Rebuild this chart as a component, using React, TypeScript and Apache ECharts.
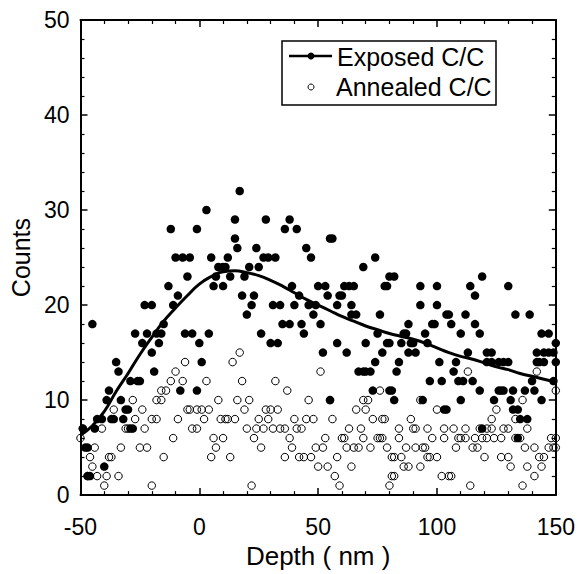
import React, { useEffect, useRef } from "react";
import * as echarts from "echarts";

// Exposed C/C counts: [depth (nm), counts]
const exposed: number[][] = [
  [-49, 7], [-48, 5], [-47, 5], [-47, 2], [-46, 2], [-45, 18], [-44, 7], [-43, 8], [-41, 8], [-40, 3],
  [-39, 10], [-38, 11], [-37, 8], [-36, 8], [-35, 14], [-34, 13], [-33, 10], [-32, 8], [-31, 9], [-30, 9],
  [-29, 7], [-28, 7], [-29, 12], [-26, 12], [-25, 12], [-27, 17], [-24, 16], [-23, 20], [-20, 20], [-22, 17],
  [-20, 15], [-19, 13], [-18, 17], [-16, 17], [-17, 16], [-15, 18], [-13, 22], [-11, 20], [-9, 21], [-10, 25],
  [-7, 25], [-4, 25], [-5, 23], [-12, 28], [-1, 28], [-8, 11], [-1, 11], [-6, 17], [-3, 17], [0, 16],
  [1, 14], [3, 30], [4, 17], [5, 25], [6, 22], [7, 23], [8, 24], [10, 24], [11, 24], [10, 22],
  [12, 25], [13, 23], [15, 29], [15, 27], [16, 26], [17, 32],
  [18, 21], [19, 23], [20, 19], [21, 24], [22, 20], [23, 21], [24, 26], [25, 24], [26, 17], [27, 25],
  [29, 25], [32, 25], [28, 29], [30, 16], [33, 16], [31, 20], [34, 20], [35, 18], [38, 18], [36, 28],
  [41, 28], [38, 29], [39, 22], [40, 20], [42, 21], [43, 18], [44, 17], [45, 26], [47, 25], [46, 20],
  [49, 20], [48, 19], [50, 22], [53, 22], [54, 21], [51, 18], [52, 15], [55, 27], [56, 27], [58, 20],
  [59, 21], [60, 21], [61, 22], [63, 22], [65, 22], [64, 20], [64, 19], [66, 19], [58, 16], [62, 15],
  [69, 24], [67, 13], [69, 13], [70, 13], [72, 13], [74, 14], [70, 16], [74, 25], [76, 19], [75, 17],
  [77, 15], [79, 16], [78, 22], [80, 23], [55, 10], [73, 11], [80, 11],
  [82, 23], [79, 22], [80, 16], [84, 14], [83, 13], [81, 11], [82, 10], [85, 16], [86, 17], [87, 17],
  [88, 18], [88, 15], [91, 15], [89, 16], [90, 16], [93, 22], [93, 20], [95, 17], [96, 16], [98, 18],
  [99, 18], [97, 12], [100, 22], [100, 20], [101, 14], [102, 12], [103, 9], [104, 9], [104, 19], [105, 19],
  [106, 18], [108, 14], [107, 13], [109, 12], [111, 12], [115, 12], [110, 17], [110, 10], [112, 19], [113, 15],
  [114, 22], [116, 21], [116, 18], [118, 17], [118, 11], [119, 23], [121, 15], [123, 15], [121, 14], [123, 14],
  [126, 14], [128, 14], [130, 14], [124, 10], [126, 11], [127, 11], [128, 11], [130, 22], [131, 10], [132, 11],
  [132, 9], [134, 9], [133, 19], [137, 11], [139, 19], [135, 8], [138, 8], [140, 12], [141, 11], [142, 14],
  [143, 14], [145, 14], [142, 15], [145, 15], [147, 15], [149, 15], [144, 17], [147, 17], [144, 10], [149, 12],
  [150, 16], [150, 14], [134, 6], [119, 7], [94, 10],
];

// Annealed C/C counts: [depth (nm), counts]
const annealed: number[][] = [
  [-50, 6], [-49, 7], [-46, 4], [-45, 3], [-47, 2], [-43, 2], [-39, 2], [-34, 2], [-40, 1], [-44, 5],
  [-41, 7], [-38, 4], [-37, 4], [-36, 9], [-33, 5], [-31, 7], [-30, 7], [-28, 10], [-27, 8], [-24, 9],
  [-23, 7], [-25, 5], [-22, 5], [-20, 1], [-20, 8], [-18, 8], [-18, 10], [-16, 10], [-16, 11], [-14, 11],
  [-15, 4], [-12, 12], [-11, 6], [-10, 13], [-9, 8], [-7, 12], [-6, 14], [-5, 9], [-4, 9], [-3, 7],
  [-1, 7], [-1, 9], [1, 9], [2, 8], [3, 12], [4, 9], [5, 4], [6, 6], [7, 5], [8, 10],
  [9, 8], [11, 8], [12, 8], [10, 6], [13, 4], [14, 14], [15, 8],
  [17, 15], [18, 12], [16, 10], [21, 10], [19, 9], [20, 7], [23, 6], [26, 5], [22, 1], [24, 7],
  [27, 7], [25, 8], [29, 8], [28, 9], [30, 9], [33, 9], [31, 7], [34, 7], [36, 7], [32, 12],
  [37, 11], [38, 6], [39, 5], [36, 4], [40, 8], [41, 7], [43, 7], [42, 4], [44, 4], [47, 4],
  [45, 8], [48, 8], [46, 10], [49, 5], [52, 5], [50, 3], [54, 3], [51, 13], [53, 6], [55, 10],
  [56, 8], [57, 2], [58, 4], [59, 1], [60, 6], [61, 6], [62, 5], [65, 5], [67, 5], [63, 7],
  [64, 3], [66, 9], [68, 7], [69, 6], [69, 10], [71, 10], [70, 9], [72, 5], [73, 8], [75, 6],
  [76, 6], [77, 6], [76, 11], [78, 8], [79, 5], [80, 1], [81, 4], [81, 2],
  [113, 13], [93, 10], [100, 9], [89, 8], [77, 8], [84, 7], [90, 7], [91, 7], [96, 7], [103, 7],
  [107, 7], [112, 7], [118, 7], [121, 7], [123, 7], [123, 8], [125, 9], [128, 7], [130, 7], [133, 8],
  [136, 10], [138, 7], [142, 13], [150, 11], [84, 6], [82, 4], [85, 4], [87, 5], [86, 3], [88, 3],
  [82, 2], [91, 5], [93, 3], [94, 5], [95, 5], [96, 4], [97, 4], [100, 4], [98, 6], [103, 6],
  [102, 2], [105, 2], [106, 2], [108, 5], [109, 6], [110, 6], [112, 6], [115, 5], [117, 5], [116, 6],
  [119, 6], [121, 6], [124, 6], [127, 6], [114, 1], [120, 4], [127, 4], [130, 4], [131, 3], [133, 6],
  [135, 6], [137, 5], [138, 3], [136, 1], [141, 2], [141, 5], [143, 4], [145, 4], [144, 3], [148, 6],
  [150, 6], [147, 5], [149, 5], [150, 5],
];

// Fit curve through the exposed data
const fitX = [-50, -45, -40, -35, -30, -25, -20, -15, -10, -5, 0, 5, 10, 15, 20, 25, 30, 35, 40, 45, 50,
  55, 60, 65, 70, 75, 80, 85, 90, 95, 100, 105, 110, 115, 120, 125, 130, 135, 140, 145, 150];
const fitY = [6.3, 7.3, 8.8, 10.9, 12.8, 14.8, 16.6, 18.3, 19.7, 21, 22.2, 23, 23.5, 23.6, 23.4, 23.1, 22.6,
  22, 21.3, 20.6, 20, 19.4, 18.8, 18.3, 17.8, 17.4, 17, 16.7, 16.4, 16, 15.5, 15, 14.6, 14.3, 13.9, 13.5,
  13.2, 12.8, 12.5, 12.2, 11.9];

const seriesNames = ["Exposed C/C", "Annealed C/C"];
const xTitle = "Depth ( nm )";
const yTitle = "Counts";

const FONT = "'Liberation Sans', Arial, Helvetica, sans-serif";

export default function App() {
  const ref = useRef<HTMLDivElement>(null);
  useEffect(() => {
    document.body.style.margin = "0";
    const chart = echarts.init(ref.current!, null, { renderer: "svg" });
    const axisLine = { show: true, onZero: false, lineStyle: { color: "#000", width: 2 } };
    const tick = { show: true, inside: true, length: 7, lineStyle: { color: "#000", width: 1.5 } };
    const minor = { show: true, splitNumber: 5, length: 4, lineStyle: { color: "#000", width: 1.2 } };
    const label = { color: "#000", fontSize: 23, fontFamily: FONT };
    const fit = fitX.map((x, i) => [x, fitY[i]]);
    chart.setOption({
      animation: false,
      backgroundColor: "#fff",
      grid: { left: 75, right: 22, top: 20, bottom: 72, containLabel: false },
      xAxis: [
        {
          type: "value", min: -50, max: 150, interval: 50, position: "bottom",
          axisLine, axisTick: tick, minorTick: minor, splitLine: { show: false }, minorSplitLine: { show: false },
          axisLabel: { ...label, margin: 20 },
          name: xTitle, nameLocation: "middle", nameGap: 44,
          nameTextStyle: { color: "#000", fontSize: 26, fontFamily: FONT },
        },
        {
          type: "value", min: -50, max: 150, interval: 50, position: "top",
          axisLine, axisTick: tick, minorTick: minor, splitLine: { show: false },
          axisLabel: { show: false },
        },
      ],
      yAxis: [
        {
          type: "value", min: 0, max: 50, interval: 10, position: "left",
          axisLine, axisTick: tick, minorTick: minor, splitLine: { show: false }, minorSplitLine: { show: false },
          axisLabel: { ...label, margin: 11 },
          name: yTitle, nameLocation: "middle", nameGap: 42,
          nameTextStyle: { color: "#000", fontSize: 25, fontFamily: FONT },
        },
        {
          type: "value", min: 0, max: 50, interval: 10, position: "right",
          axisLine, axisTick: tick, minorTick: minor, splitLine: { show: false },
          axisLabel: { show: false },
        },
      ],
      series: [
        {
          name: seriesNames[1], type: "scatter", data: annealed, symbol: "circle", symbolSize: 7.5, clip: false,
          itemStyle: { color: "rgba(255,255,255,0)", borderColor: "#000", borderWidth: 1, opacity: 1 },
        },
        {
          name: seriesNames[0], type: "scatter", data: exposed, symbol: "circle", symbolSize: 8.5, clip: false,
          itemStyle: { color: "#000", opacity: 1 },
        },
        {
          name: "fit", type: "line", data: fit, smooth: true, showSymbol: false, symbol: "none",
          lineStyle: { color: "#000", width: 3 }, z: 3,
        },
      ],
      graphic: [
        { type: "rect", shape: { x: 282, y: 41, width: 214, height: 64 }, style: { fill: "#fff", stroke: "#000", lineWidth: 1.5 }, z: 10 },
        { type: "line", shape: { x1: 289, y1: 56, x2: 332, y2: 56 }, style: { stroke: "#000", lineWidth: 2.5 }, z: 11 },
        { type: "circle", shape: { cx: 311, cy: 56, r: 3.5 }, style: { fill: "#000" }, z: 11 },
        { type: "text", x: 337, y: 57, style: { text: seriesNames[0], fill: "#000", font: `25px ${FONT}`, verticalAlign: "middle" }, z: 11 },
        { type: "circle", shape: { cx: 311, cy: 87, r: 3 }, style: { fill: "#fff", stroke: "#000", lineWidth: 1 }, z: 11 },
        { type: "text", x: 336, y: 87, style: { text: seriesNames[1], fill: "#000", font: `25px ${FONT}`, verticalAlign: "middle" }, z: 11 },
      ],
    });
    return () => chart.dispose();
  }, []);
  return <div ref={ref} style={{ width: 578, height: 574 }} />;
}
